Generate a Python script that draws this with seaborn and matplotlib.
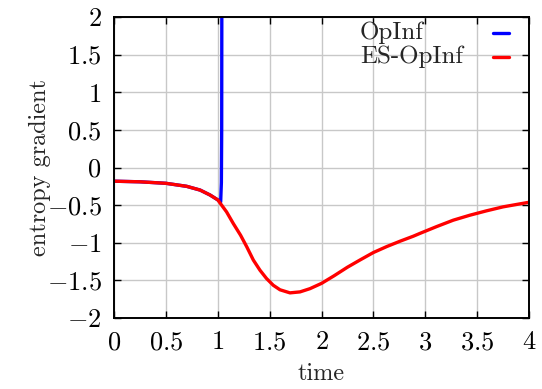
import matplotlib
matplotlib.use("Agg")
import matplotlib.pyplot as plt
from matplotlib.lines import Line2D
from matplotlib.ticker import FuncFormatter, MultipleLocator
import pandas as pd
import seaborn as sns

# Entropy gradient over time for the two reduced models
time_es = [0.0, 0.25, 0.5, 0.7, 0.83, 0.925, 1.0, 1.085, 1.15, 1.22, 1.28,
           1.343, 1.407, 1.47, 1.535, 1.60, 1.696, 1.793, 1.889, 2.0, 2.12,
           2.25, 2.37, 2.5, 2.63, 2.76, 2.885, 2.95, 3.11, 3.27, 3.43, 3.59,
           3.75, 4.0]
grad_es = [-0.182, -0.19, -0.21, -0.25, -0.30, -0.365, -0.43, -0.59, -0.745,
           -0.90, -1.055, -1.23, -1.365, -1.475, -1.565, -1.625, -1.666,
           -1.653, -1.61, -1.54, -1.44, -1.325, -1.23, -1.13, -1.05, -0.978,
           -0.913, -0.875, -0.785, -0.70, -0.634, -0.576, -0.523, -0.462]

time_op = [0.0, 0.25, 0.5, 0.7, 0.83, 0.925, 1.0, 1.028, 1.035, 1.038, 1.04]
grad_op = [-0.182, -0.19, -0.21, -0.25, -0.30, -0.365, -0.43, -0.46, -0.2,
           0.5, 3.0]

labels = ["OpInf", "ES-OpInf"]
colors = ["#0000ff", "#ff0000"]

sns.set_theme(style="ticks")
plt.rcParams["font.family"] = ["cmr10"]
plt.rcParams["mathtext.fontset"] = "cm"
plt.rcParams["axes.unicode_minus"] = True

df = pd.concat([
    pd.DataFrame({"time": time_op, "grad": grad_op, "model": labels[0]}),
    pd.DataFrame({"time": time_es, "grad": grad_es, "model": labels[1]}),
])

fig = plt.figure(figsize=(5.42, 3.89), dpi=100)
ax = fig.add_axes([114 / 542, 1 - 318 / 389, (529 - 114) / 542, (318 - 17) / 389])

sns.lineplot(data=df, x="time", y="grad", hue="model", palette=colors,
             hue_order=labels, sort=False, estimator=None, lw=2.4, ax=ax,
             legend=False)
for ln in ax.get_lines():
    ln.set_solid_joinstyle("round")

ax.set_xlim(0, 4)
ax.set_ylim(-2, 2)
ax.xaxis.set_major_locator(MultipleLocator(0.5))
ax.yaxis.set_major_locator(MultipleLocator(0.5))
fmt = FuncFormatter(lambda v, p: "$%g$" % v)
ax.xaxis.set_major_formatter(fmt)
ax.yaxis.set_major_formatter(fmt)
ax.tick_params(axis="x", pad=9)
ax.tick_params(axis="y", pad=9)
ax.tick_params(direction="in", length=5, width=1, top=True, right=True,
               labelsize=19, colors="black")
ax.grid(True, color="#c8c8c8", lw=1)
for s in ax.spines.values():
    s.set_linewidth(1.4)
    s.set_color("black")

ax.set_xlabel("time", fontsize=17.5, labelpad=6)
ax.set_ylabel("entropy gradient", fontsize=17.5, labelpad=-3)

# key: left-aligned titles with short samples on the right
key_y = [0.947, 0.867]
for lab, col, yk in zip(labels, colors, key_y):
    ax.text(0.593, yk, lab, transform=ax.transAxes, fontsize=18,
            ha="left", va="center")
    ax.add_line(Line2D([0.913, 0.952], [yk, yk], transform=ax.transAxes,
                       color=col, lw=2.4))

fig.savefig("out.png", dpi=100)
